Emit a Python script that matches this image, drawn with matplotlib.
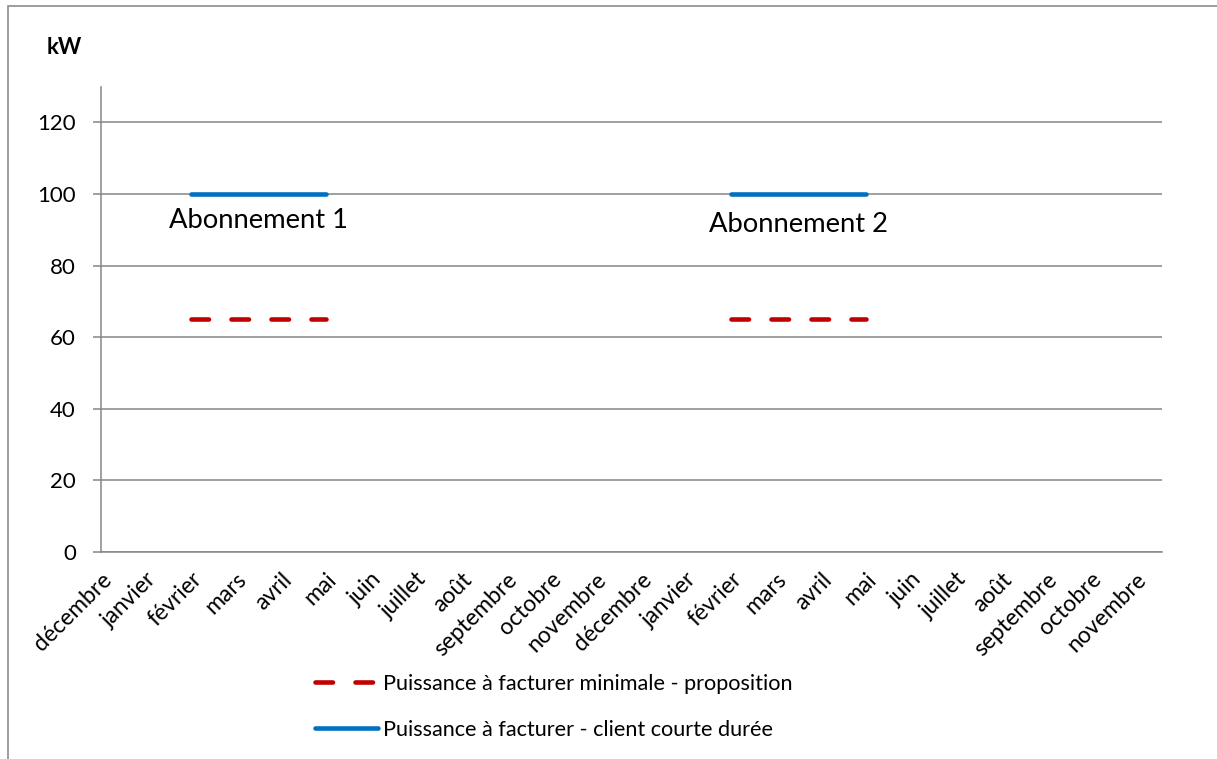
import numpy as np
import matplotlib
matplotlib.use("Agg")
import matplotlib.pyplot as plt
from matplotlib.patches import Rectangle

months = ["décembre", "janvier", "février", "mars", "avril", "mai", "juin",
          "juillet", "août", "septembre", "octobre", "novembre",
          "décembre", "janvier", "février", "mars", "avril", "mai", "juin",
          "juillet", "août", "septembre", "octobre", "novembre"]
nan = np.nan
puissance_min = [nan, nan, 65, 65, 65, 65, nan, nan, nan, nan, nan, nan,
                 nan, nan, 65, 65, 65, 65, nan, nan, nan, nan, nan, nan]
puissance_client = [nan, nan, 100, 100, 100, 100, nan, nan, nan, nan, nan, nan,
                    nan, nan, 100, 100, 100, 100, nan, nan, nan, nan, nan, nan]
label_min = "Puissance à facturer minimale - proposition"
label_client = "Puissance à facturer - client courte durée"
annotations = [("Abonnement 1", 3.5, 92.5), ("Abonnement 2", 15.5, 91.5)]
yticks = [0, 20, 40, 60, 80, 100, 120]

plt.rcParams['font.family'] = ['Lato', 'DejaVu Sans']
plt.rcParams['lines.scale_dashes'] = False

W, H = 1217, 759
fig = plt.figure(figsize=(W / 100, H / 100), dpi=100)
ax = fig.add_axes([101 / W, 1 - 552 / H, (1162 - 101) / W, (552 - 86.7) / H])

x = np.arange(len(months))
grid_c = "#868686"
ln_min, = ax.plot(x, puissance_min, color="#C00000", lw=3.3, label=label_min,
                  solid_capstyle='round', dash_capstyle='round', zorder=3)
ln_min.set_dashes((12.6, 16.2))
ln_cli, = ax.plot(x, puissance_client, color="#0070C0", lw=3.3, label=label_client,
                  solid_capstyle='round', zorder=4)

ax.set_xlim(0, 23.58)
ax.set_ylim(0, 130)
ax.set_yticks(yticks)
ax.set_yticklabels([str(v) for v in yticks], fontsize=16)
ax.yaxis.grid(True, color=grid_c, lw=1.1)
ax.set_axisbelow(True)
for s in ["top", "right"]:
    ax.spines[s].set_visible(False)
for s in ["left", "bottom"]:
    ax.spines[s].set_color(grid_c)
    ax.spines[s].set_linewidth(1.1)
ax.tick_params(axis='y', length=5.8, width=1.1, color=grid_c, pad=12.2)
ax.set_xticks(x)
ax.set_xticklabels(months, fontsize=16.5, rotation=45, ha='right', va='top',
                   rotation_mode='anchor')
ax.tick_params(axis='x', length=0, pad=12)

for txt, tx, ty in annotations:
    ax.text(tx, ty, txt, fontsize=19.7, ha='center', va='center')

fig.text(64.5 / W, 1 - 48 / H, "kW", fontsize=16, fontweight='bold',
         ha='center', va='center')

leg = fig.legend(handles=[ln_min, ln_cli], loc='upper left',
                 bbox_to_anchor=(315 / W, 1 - 674 / H), frameon=False,
                 fontsize=15.6, handlelength=2.9, handletextpad=0.25,
                 labelspacing=1.18, borderpad=0, borderaxespad=0)

fig.patches.append(Rectangle((8 / W, -0.1), 1.2, (1 - 6 / H) + 0.1,
                             transform=fig.transFigure, fill=False,
                             edgecolor="#8c8c8c", lw=1.2))

fig.savefig("out.png", dpi=100)
